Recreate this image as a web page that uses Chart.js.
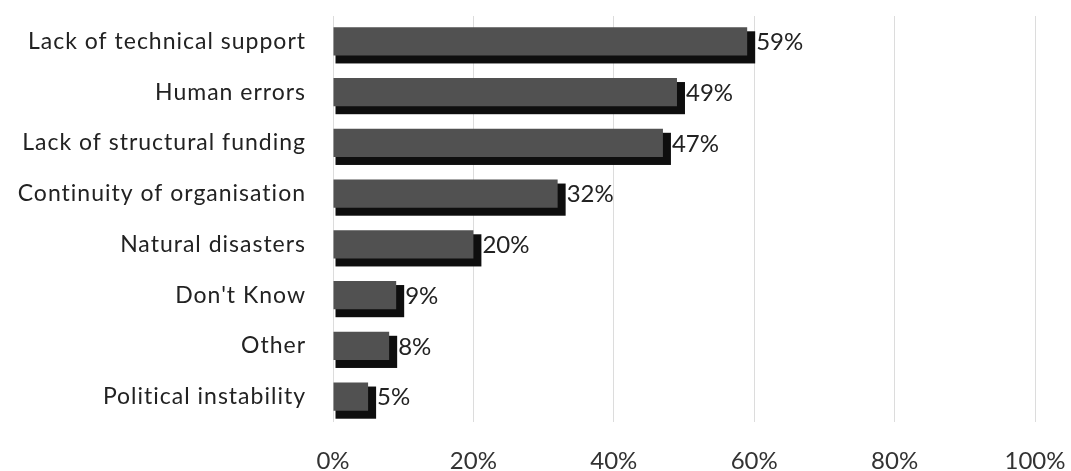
<!DOCTYPE html>
<html>
<head>
<meta charset="utf-8">
<script src="https://cdn.jsdelivr.net/npm/chart.js@4/dist/chart.umd.min.js"></script>
<style>
html,body{margin:0;padding:0;background:#fff;overflow:hidden;}
#wrap{width:1071px;height:471px;position:relative;}
</style>
</head>
<body>
<div id="wrap"><canvas id="c"></canvas></div>
<script>
const categories = ["Lack of technical support","Human errors","Lack of structural funding","Continuity of organisation","Natural disasters","Don't Know","Other","Political instability"];
const values = [59,49,47,32,20,9,8,5];
const tickValues = [0,20,40,60,80,100];

const FONT = "Lato, 'Open Sans', sans-serif";

const shadowPlugin = {
  id: 'shadow3d',
  beforeDatasetsDraw(chart){
    const ctx = chart.ctx;
    const meta = chart.getDatasetMeta(0);
    ctx.save();
    meta.data.forEach(bar => {
      const top = bar.y - bar.height/2;
      const bot = bar.y + bar.height/2;
      ctx.fillStyle = '#0e0e0e';
      ctx.fillRect(bar.base + 2, top + 4, bar.x - bar.base + 6, bot - top + 4);
    });
    ctx.restore();
  },
  afterDatasetsDraw(chart){
    const ctx = chart.ctx;
    const meta = chart.getDatasetMeta(0);
    ctx.save();
    ctx.font = "24px " + FONT;
    ctx.fillStyle = '#222';
    ctx.textAlign = 'left';
    ctx.textBaseline = 'middle';
    meta.data.forEach((bar,i) => {
      ctx.fillText(values[i] + '%', bar.x + 9, bar.y + 1);
    });
    ctx.restore();
    // widen letter spacing for the category labels drawn next (y ticks z=1)
    ctx.letterSpacing = '1px';
  },
  afterDraw(chart){
    chart.ctx.letterSpacing = '0px';
  }
};

new Chart(document.getElementById('c'), {
  type: 'bar',
  data: {
    labels: categories,
    datasets: [{
      data: values,
      backgroundColor: '#515151',
      borderWidth: 0,
      barPercentage: 0.75,
      categoryPercentage: 0.74
    }]
  },
  options: {
    indexAxis: 'y',
    responsive: true,
    maintainAspectRatio: false,
    animation: false,
    layout: { padding: { top: 16, bottom: 0, left: 0, right: 36 } },
    plugins: { legend: { display: false }, tooltip: { enabled: false } },
    scales: {
      x: {
        min: 0, max: 100,
        afterBuildTicks(scale){ scale.ticks = tickValues.map(v => ({value: v})); },
        afterFit(scale){ scale.height = 49; scale.paddingLeft = 0; scale.paddingRight = 0; },
        ticks: {
          callback: v => v + '%',
          font: { family: FONT, size: 24 },
          color: '#333',
          padding: 25
        },
        grid: { color: '#dcdcdc', lineWidth: 1, drawTicks: false },
        border: { display: false }
      },
      y: {
        afterFit(scale){ scale.width = 333; scale.paddingTop = 0; scale.paddingBottom = 0; },
        ticks: {
          font: { family: FONT, size: 23 },
          color: '#222',
          padding: 27,
          z: 1
        },
        grid: { display: false, drawTicks: false },
        border: { display: false }
      }
    }
  },
  plugins: [shadowPlugin]
});
</script>
</body>
</html>
